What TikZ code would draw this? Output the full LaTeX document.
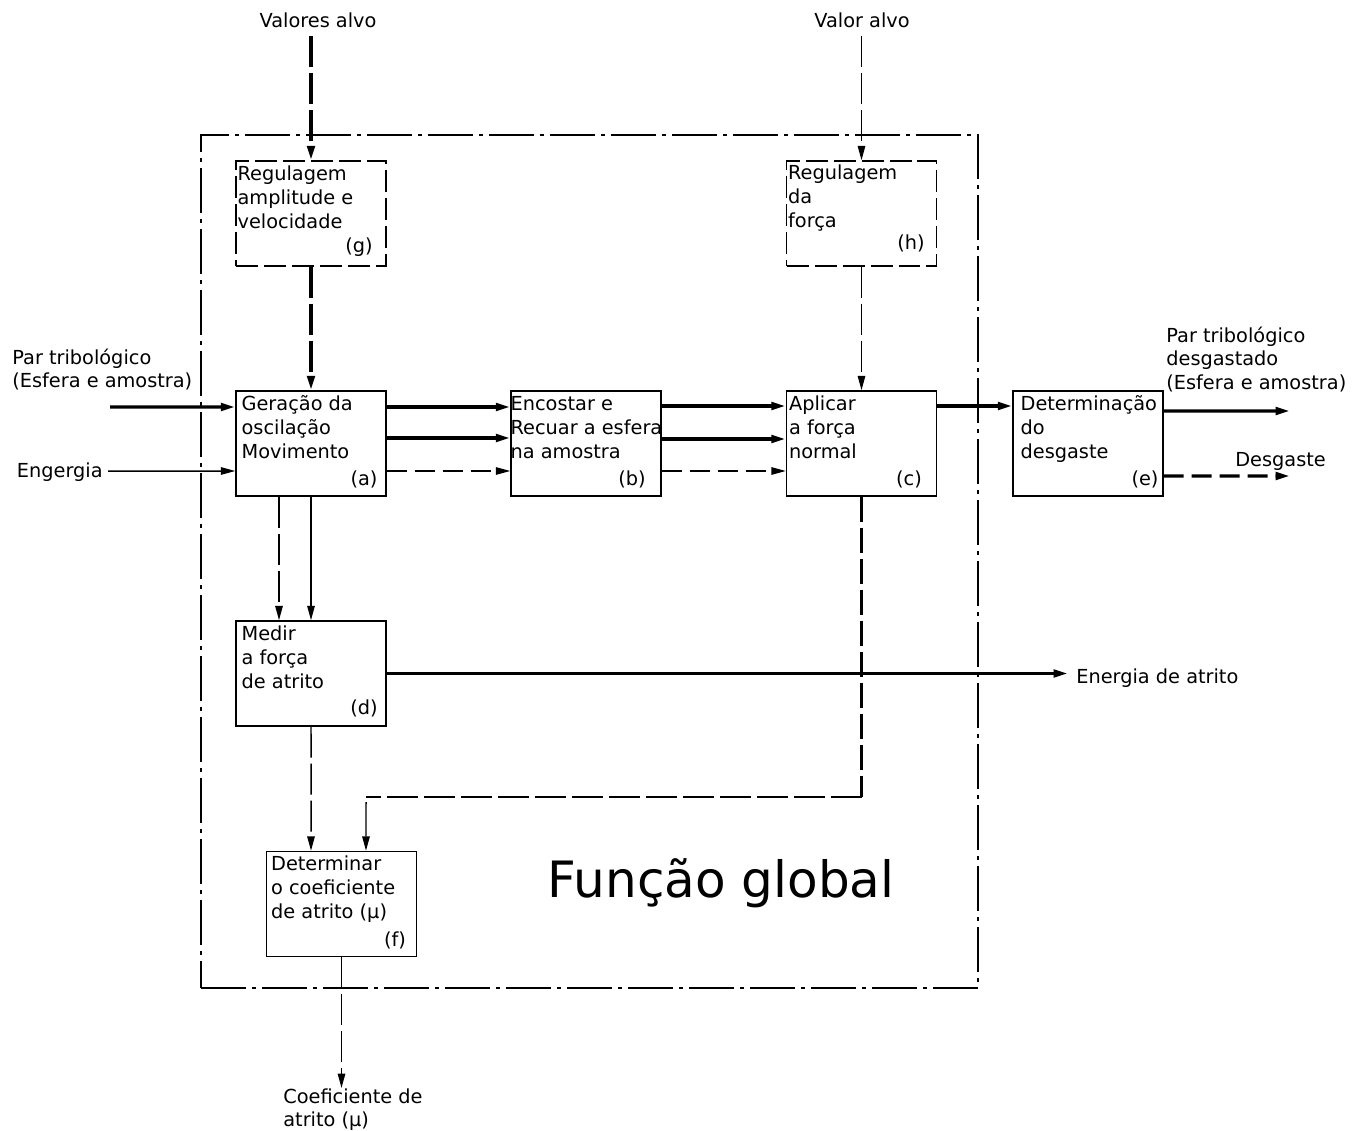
\documentclass[tikz,border=0pt]{standalone}
\usepackage{fontspec}
\setmainfont{DejaVu Sans}
\usetikzlibrary{arrows.meta}

\tikzset{
  txtfont/.style={font=\fontsize{11}{13.6}\selectfont},
  blk/.style={draw, line width=0.85pt, minimum width=3cm, minimum height=2.1cm, inner sep=0pt},
  dblk/.style={blk, dash pattern=on 0.44cm off 0.12cm},
  btxt/.style={txtfont, align=left, inner sep=0pt, anchor=north west},
  tag/.style={txtfont, inner sep=0pt},
  lbl/.style={txtfont, inner sep=0pt},
  globalframe/.style={draw, line width=0.85pt, inner sep=0pt,
    dash pattern=on 0.9cm off 0.12cm on 0.08cm off 0.12cm},
  tip/.style={-{Triangle[length=2.9mm,width=1.5mm]}},
  heavy/.style={line width=1.9pt, tip},
  light/.style={line width=0.85pt, tip},
  heavyline/.style={line width=1.9pt},
  lightline/.style={line width=0.85pt},
  longdash/.style={dash pattern=on 0.62cm off 0.12cm},
  shortdash/.style={dash pattern=on 0.4cm off 0.16cm},
}

\begin{document}
\begin{tikzpicture}[x=0.02cm, y=-0.02cm]
  \useasboundingbox (0,0) rectangle (1353,1130);

  % overall system boundary
  \node[globalframe, minimum width=15.54cm, minimum height=17.06cm] (global) at (589.5,561.5) {};
  \node[font=\fontsize{28.5}{32}\selectfont, inner sep=0pt] (gtitle) at (721,883) {Função global};

  % function blocks
  \node[dblk] (g) at (311,213.5) {};
  \node[dblk] (h) at (861.5,213.5) {};
  \node[blk] (a) at (311,443.5) {};
  \node[blk] (b) at (586,443.5) {};
  \node[blk] (c) at (861.5,443.5) {};
  \node[blk] (e) at (1088,443.5) {};
  \node[blk] (d) at (311,673.5) {};
  \node[blk] (f) at (341.5,904) {};

  % block texts
  \node[btxt] (gt) at ([xshift=0.04cm,yshift=-0.06cm]g.north west) {\strut Regulagem\\amplitude e\\velocidade};
  \node[btxt] (ht) at ([xshift=0.04cm,yshift=-0.04cm]h.north west) {\strut Regulagem\\da\\força};
  \node[btxt] (at) at ([xshift=0.12cm,yshift=-0.06cm]a.north west) {\strut Geração da\\oscilação\\Movimento};
  \node[btxt] (bt) at ([xshift=0cm,yshift=-0.06cm]b.north west) {\strut Encostar e\\Recuar a esfera\\na amostra};
  \node[btxt] (ct) at ([xshift=0.06cm,yshift=-0.06cm]c.north west) {\strut Aplicar\\a força\\normal};
  \node[btxt] (et) at ([xshift=0.16cm,yshift=-0.06cm]e.north west) {\strut Determinação\\do\\desgaste};
  \node[btxt] (dt) at ([xshift=0.12cm,yshift=-0.06cm]d.north west) {\strut Medir\\a força\\de atrito};
  \node[btxt] (ft) at ([xshift=0.1cm,yshift=-0.06cm]f.north west) {\strut Determinar\\o coeficiente\\de atrito (µ)};

  \node[tag] (gtag) at (359,247) {(g)};
  \node[tag] (htag) at (911,243) {(h)};
  \node[tag] (atag) at (364,479) {(a)};
  \node[tag] (btag) at (632,479) {(b)};
  \node[tag] (ctag) at (909,479) {(c)};
  \node[tag] (etag) at (1145,479) {(e)};
  \node[tag] (dtag) at (364,708) {(d)};
  \node[tag] (ftag) at (395,940) {(f)};

  % external labels
  \node[lbl] (valores) at (318,20) {Valores alvo};
  \node[lbl] (valor) at (862,20) {Valor alvo};
  \node[btxt] (parin) at (12,347) {\strut Par tribológico\\(Esfera e amostra)};
  \node[lbl, anchor=base east] (energin) at (103,477) {Engergia};
  \node[btxt] (parout) at (1166,325) {\strut Par tribológico\\desgastado\\(Esfera e amostra)};
  \node[lbl, anchor=base west] (desg) at (1235,466) {Desgaste};
  \node[lbl, anchor=base west] (eatr) at (1076,683) {Energia de atrito};
  \node[btxt] (coef) at (283,1086) {\strut Coeficiente de\\atrito (µ)};

  % free connector ends and bends
  \coordinate (valoresS) at (311,36);
  \coordinate (valorS) at (861.5,36);
  \coordinate (parS) at (110,407);
  \coordinate (enS) at (108,471);
  \coordinate (parE) at (1290,411);
  \coordinate (desgE) at (1290,476);
  \coordinate (eatrE) at (1068,673.5);
  \coordinate (coefE) at (341.5,1088);
  \coordinate (cbend) at (861.5,797);
  \coordinate (fbend) at (366,797);

  % set-point paths
  \draw[heavy, longdash] (valoresS) -- (g.north);
  \draw[heavy, longdash] (g.south) -- (a.north);
  \draw[light, longdash] (valorS) -- (h.north);
  \draw[light, longdash] (h.south) -- (c.north);

  % inputs
  \draw[heavy] (parS) -- ([yshift=0.73cm]a.west);
  \draw[light] (enS) -- ([yshift=-0.55cm]a.west);

  % main chain
  \draw[heavy] ([yshift=0.73cm]a.east) -- ([yshift=0.73cm]b.west);
  \draw[heavy] ([yshift=0.11cm]a.east) -- ([yshift=0.11cm]b.west);
  \draw[light, shortdash] ([yshift=-0.55cm]a.east) -- ([yshift=-0.55cm]b.west);
  \draw[heavy] ([yshift=0.75cm]b.east) -- ([yshift=0.75cm]c.west);
  \draw[heavy] ([yshift=0.09cm]b.east) -- ([yshift=0.09cm]c.west);
  \draw[light, shortdash] ([yshift=-0.55cm]b.east) -- ([yshift=-0.55cm]c.west);
  \draw[heavy] ([yshift=0.75cm]c.east) -- ([yshift=0.75cm]e.west);

  % outputs of wear determination
  \draw[heavy] ([yshift=0.65cm]e.east) -- (parE);
  \draw[heavy, shortdash] ([yshift=-0.65cm]e.east) -- (desgE);

  % friction measurement
  \draw[light, longdash] ([xshift=-0.64cm]a.south) -- ([xshift=-0.64cm]d.north);
  \draw[light] (a.south) -- (d.north);
  \draw[heavy] (d.east) -- (eatrE);

  % friction coefficient
  \draw[light, longdash] (d.south) -- ([xshift=-0.61cm]f.north);
  \draw[heavyline, dash pattern=on 0.5cm off 0.12cm] (c.south) -- (cbend);
  \draw[lightline, longdash] (cbend) -- (fbend);
  \draw[light] ([yshift=-0.1cm]fbend) -- ([xshift=0.49cm]f.north);
  \draw[light, longdash] (f.south) -- (coefE);
\end{tikzpicture}
\end{document}
